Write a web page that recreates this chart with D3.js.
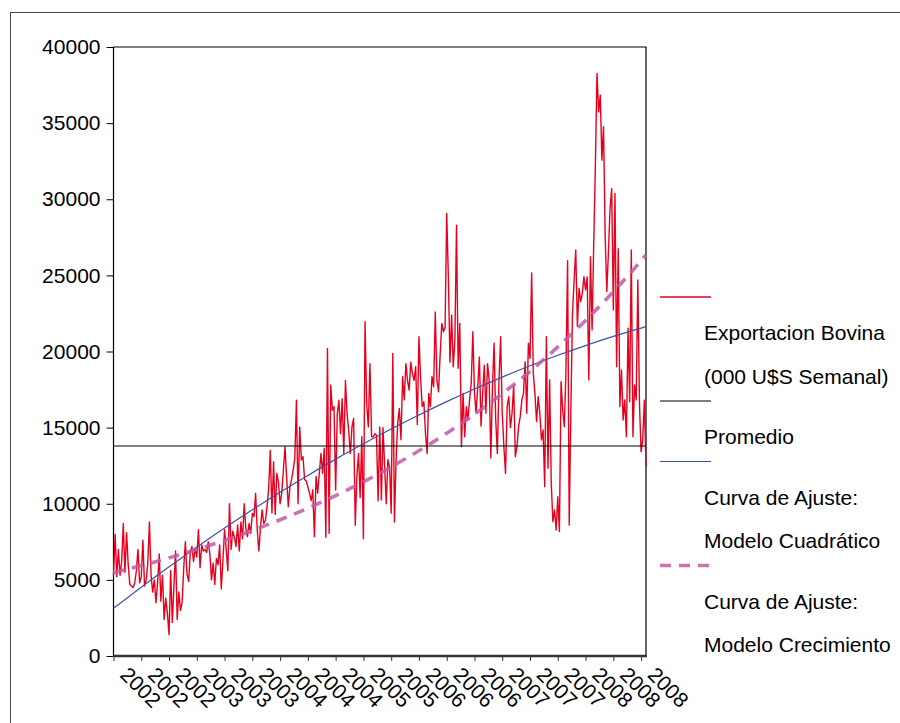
<!DOCTYPE html>
<html>
<head>
<meta charset="utf-8">
<script src="https://cdn.jsdelivr.net/npm/d3@7"></script>
<style>
  body { margin: 0; background: #fff; }
  svg { display: block; }
  text { font-family: "Liberation Sans", Arial, sans-serif; fill: #000; }
</style>
</head>
<body>
<svg id="chart" width="900" height="723"></svg>
<script>
// Weekly beef exports (thousand US$ per week), 2002 - 2008
const exportacion = [
  5300, 8000, 5200, 7000, 5300, 6200, 8700, 5500, 8100, 6000,
  4700, 4600, 4500, 4800, 5600, 7000, 4800, 5200, 7600, 4600,
  5000, 6100, 8800, 5300, 4200, 5000, 3500, 4800, 6700, 3600,
  5300, 2400, 3800, 2800, 1400, 5600, 2200, 4600, 6900, 2400,
  4200, 3000, 3500, 5800, 7500, 5400, 4900, 6800, 7200, 6200,
  7100, 6500, 8300, 5800, 7300, 6900, 7000, 6800, 7500, 6700,
  5000, 6100, 4700, 6400, 6000, 7300, 4400, 6300, 8300, 7000,
  5600, 10000, 7000, 8200, 7800, 7200, 8600, 6900, 8800, 7700,
  10000, 8400,
  7840, 8700, 8060, 9370, 9150, 10680, 8300, 6900, 8500, 9600,
  8700, 8900, 9800, 11000, 13500, 9400, 12760, 9300, 12000, 11400,
  10000, 10700, 12200, 13750, 11700, 9800, 11100, 11600, 12200, 13000,
  16800, 10000, 15050, 12870, 13100, 11600, 11500, 11100, 10700, 10200,
  10900, 7840, 11800, 10700, 12000, 13300, 12000, 13650, 7800, 20200,
  8060, 17800, 16150, 16380, 10900, 15900, 16800, 14600, 16900, 13300,
  18100, 15900, 14800, 13300, 15050, 15600, 8590, 11800, 13300, 10400,
  14400, 7700, 21960, 16600, 15050, 19200, 14400, 14400, 14600, 14500,
  10200, 15050,
  10250, 15000, 12440, 10000, 12900, 12440, 9370, 19870, 8800, 12900,
  15300, 16260, 14200, 18350, 16820, 19200, 18100, 17470, 19300, 18560,
  18100, 19000, 15200, 20970, 18240, 16380, 16700, 14630, 13300, 17250,
  16380, 18350, 17690, 22600, 18100, 17360, 19870, 21850, 21300, 21600,
  29075, 24900, 19300, 22400, 19000, 20760, 28300, 18900, 21850, 13750,
  17250, 14400, 16380, 15500, 16820, 17900, 21300, 17250, 15950, 17690,
  19650, 15100, 17250, 19100, 15950, 19200, 18100, 13000, 17690, 20540,
  15500, 13300, 18100, 20970, 15950, 13750, 11990, 16380, 17030, 15000,
  15950, 17800, 13100,
  13750, 15060, 15720, 16820, 17250, 19330, 15940, 20540, 19550, 25160,
  18570, 17250, 15400, 17030, 15940, 14190, 14840, 11120, 20980, 12330,
  18130, 11340, 8820, 9590, 8280, 10460, 8170, 18020, 16160, 15060,
  18790, 25960, 8600, 16160, 22500, 24700, 26670, 21640, 24160, 23280,
  23800, 24920, 24050, 24900, 18130, 26230, 21420, 27110, 32150, 38270,
  35740, 36840, 32570, 34770, 27530, 23940, 26540, 29390, 30700, 22720,
  30380, 19000, 26760, 16380, 18790, 15500, 16820, 14400, 21530, 16700,
  26670, 14400, 17800, 16820, 24700, 16600, 13420, 14190, 16800, 12440
];

// Sample mean of the series
const promedio = 13790;

// Fitted trend curves, sampled every 17 weeks plus the last week
const ajusteIndice = [0, 17, 34, 51, 68, 85, 102, 119, 136, 153, 170, 187, 204, 221, 238, 255, 272, 289, 306, 323, 326];
const ajusteCuadratico = [3130, 4520, 5860, 7150, 8400, 9600, 10760, 11860, 12930, 13940, 14910, 15830, 16710, 17540, 18320, 19060, 19750, 20390, 20990, 21540, 21630];
const ajusteCrecimiento = [5470, 5940, 6445, 7000, 7590, 8240, 8950, 9710, 10540, 11440, 12420, 13480, 14630, 15880, 17230, 18700, 20300, 22040, 23920, 25960, 26340];

// Axis labels
const semanasPorMarca = 17;
const etiquetasX = ["2002", "2002", "2002", "2003", "2003", "2003", "2004", "2004", "2004", "2005",
                    "2005", "2006", "2006", "2006", "2007", "2007", "2007", "2008", "2008", "2008"];
const marcasY = [0, 5000, 10000, 15000, 20000, 25000, 30000, 35000, 40000];

// Legend entries: each is a line sample followed by one or more text rows
const leyenda = [
  { serie: "exportacion", filas: ["Exportacion Bovina", "(000 U$S Semanal)"] },
  { serie: "promedio", filas: ["Promedio"] },
  { serie: "cuadratico", filas: ["Curva de Ajuste:", "Modelo Cuadrático"] },
  { serie: "crecimiento", filas: ["Curva de Ajuste:", "Modelo Crecimiento"] }
];

// ---- drawing ----
const estilos = {
  exportacion: { stroke: "#e6001e", width: 1.4, dash: null, opacity: 1 },
  promedio:    { stroke: "#000000", width: 1.1, dash: null, opacity: 1 },
  cuadratico:  { stroke: "#3a52a3", width: 1.2, dash: null, opacity: 1 },
  crecimiento: { stroke: "#c25aa4", width: 3.6, dash: "11,8", opacity: 0.85 }
};

const svg = d3.select("#chart");
const plot = { left: 113.5, right: 646, top: 47, bottom: 656 };

const x = d3.scaleLinear().domain([0, exportacion.length - 1]).range([plot.left, plot.right]);
const y = d3.scaleLinear().domain([0, 40000]).range([plot.bottom, plot.top]);

// outer frame
svg.append("rect")
  .attr("x", 10.5).attr("y", 12.5).attr("width", 900).attr("height", 720)
  .attr("fill", "none").attr("stroke", "#444").attr("stroke-width", 1);

// y axis
const yAxis = svg.append("g")
  .attr("transform", `translate(${plot.left},0)`)
  .call(d3.axisLeft(y).tickValues(marcasY).tickFormat(d3.format("d")).tickSize(7).tickPadding(6));
yAxis.select(".domain").remove();
yAxis.selectAll("line").attr("stroke", "#000");
yAxis.selectAll("text").attr("font-size", 21).attr("font-family", "'Liberation Sans', Arial, sans-serif").attr("fill", "#000");

// x axis
const xTicks = etiquetasX.map((_, k) => k * semanasPorMarca);
const xAxis = svg.append("g")
  .attr("transform", `translate(0,${plot.bottom})`)
  .call(d3.axisBottom(x).tickValues(xTicks).tickFormat((d, k) => etiquetasX[k]).tickSize(5).tickPadding(0));
xAxis.select(".domain").remove();
xAxis.selectAll("line").attr("stroke", "#333").attr("stroke-width", 1);
xAxis.selectAll("text")
  .attr("font-size", 21).attr("font-family", "'Liberation Sans', Arial, sans-serif").attr("fill", "#000")
  .attr("text-anchor", "start")
  .attr("y", 0).attr("dy", 0)
  .attr("transform", "translate(5,20) rotate(45)");

// plot frame (left, top, right thin; bottom axis heavier)
const frame = svg.append("g").attr("fill", "none");
frame.append("path")
  .attr("d", `M${plot.left},${plot.bottom} V${plot.top} H${plot.right} V${plot.bottom}`)
  .attr("stroke", "#000").attr("stroke-width", 1.2);
frame.append("line")
  .attr("x1", plot.left).attr("x2", plot.right + 1)
  .attr("y1", plot.bottom).attr("y2", plot.bottom)
  .attr("stroke", "#333").attr("stroke-width", 2.4);

function trazar(sel, est) {
  sel.attr("fill", "none")
    .attr("stroke", est.stroke)
    .attr("stroke-width", est.width)
    .attr("stroke-opacity", est.opacity)
    .attr("stroke-linejoin", "round");
  if (est.dash) sel.attr("stroke-dasharray", est.dash);
  return sel;
}

// series
const lineaSerie = d3.line().x((d, i) => x(i)).y(d => y(d));
trazar(svg.append("path").datum(exportacion).attr("d", lineaSerie), estilos.exportacion);

trazar(svg.append("line")
  .attr("x1", x(0)).attr("x2", x(exportacion.length - 1))
  .attr("y1", y(promedio)).attr("y2", y(promedio)), estilos.promedio);

const lineaAjuste = d3.line().x(d => x(d[0])).y(d => y(d[1])).curve(d3.curveMonotoneX);
trazar(svg.append("path")
  .datum(ajusteIndice.map((t, k) => [t, ajusteCuadratico[k]]))
  .attr("d", lineaAjuste), estilos.cuadratico);
trazar(svg.append("path")
  .datum(ajusteIndice.map((t, k) => [t, ajusteCrecimiento[k]]))
  .attr("d", lineaAjuste), estilos.crecimiento);

// legend
const leg = svg.append("g");
let cursor = 297;
leyenda.forEach(item => {
  trazar(leg.append("line")
    .attr("x1", 660).attr("x2", 711)
    .attr("y1", cursor).attr("y2", cursor), estilos[item.serie]);
  cursor += 36;
  item.filas.forEach((fila, k) => {
    if (k > 0) cursor += 43.5;
    leg.append("text")
      .attr("x", 704).attr("y", cursor).attr("dy", "0.35em")
      .attr("font-size", 21)
      .text(fila);
  });
  cursor += 24.5;
});
</script>
</body>
</html>
